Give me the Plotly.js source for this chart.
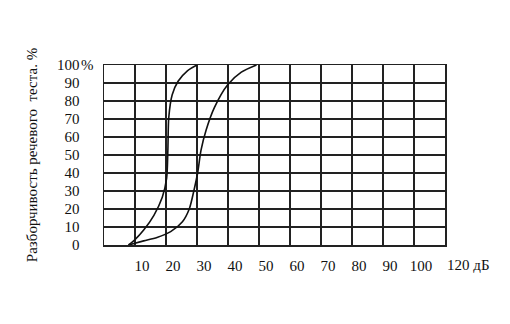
<!DOCTYPE html>
<html><head><meta charset="utf-8">
<script src="https://cdn.plot.ly/plotly-3.0.1.min.js"></script>
<style>body{margin:0;background:#fff}#c{width:510px;height:324px}</style>
</head><body><div id="c"></div>
<script>
const curve1X = [7.9, 10, 12.8, 16.1, 18.8, 20.2, 20.6, 20.9, 22, 23.9, 26.9, 30];
const curve1Y = [0, 3, 8.3, 16.5, 26.5, 37, 52.7, 71, 83.5, 91, 96.8, 100];
const curve2X = [7.9, 12.8, 17.1, 21.5, 25.3, 27.5, 29.1, 30.2, 31.3, 32.9, 35.6, 39.9, 44.3, 49.2];
const curve2Y = [0, 2.3, 4.2, 7.4, 12.9, 20, 31, 40, 52.7, 63.6, 76.3, 89, 96, 100];
const xTickVals = [10, 20, 30, 40, 50, 60, 70, 80, 90, 100];
const xTickText = ['10', '20', '30', '40', '50', '60', '70', '80', '90', '100'];
const xLastVal = 110;
const xLastText = '120 дБ';
const yTickVals = [0, 10, 20, 30, 40, 50, 60, 70, 80, 90, 100];
const yTickText = ['0', '10', '20', '30', '40', '50', '60', '70', '80', '90', '100'];
const yTitle = 'Разборчивость речевого  теста. %';

const font = {family: 'Liberation Serif, Times New Roman, serif', size: 15, color: '#111'};
const lineStyle = {color: '#111', width: 1.6, shape: 'spline', smoothing: 0.8};

Plotly.newPlot('c', [
  {x: curve1X, y: curve1Y, mode: 'lines', line: lineStyle, hoverinfo: 'skip'},
  {x: curve2X, y: curve2Y, mode: 'lines', line: lineStyle, hoverinfo: 'skip'}
], {
  width: 510, height: 324,
  margin: {l: 104, r: 65, t: 65, b: 79},
  showlegend: false,
  paper_bgcolor: '#fff', plot_bgcolor: '#fff',
  font: font,
  xaxis: {
    range: [0, 110],
    showgrid: true, gridcolor: '#222', gridwidth: 1.5,
    showline: true, linecolor: '#222', linewidth: 1.5, mirror: true,
    zeroline: false,
    tickmode: 'array', tickvals: xTickVals, ticktext: xTickText,
    ticks: '', ticklabelstandoff: 6, ticklabelshift: 7,
    tickfont: font
  },
  yaxis: {
    range: [0, 100],
    showgrid: true, gridcolor: '#222', gridwidth: 1.5,
    showline: true, linecolor: '#222', linewidth: 1.5, mirror: true,
    zeroline: false,
    tickmode: 'array', tickvals: yTickVals, ticktext: yTickText,
    ticks: '', ticklabelstandoff: 20,
    tickfont: font,
    title: {text: yTitle, font: font, standoff: 16}
  },
  annotations: [
    {x: xLastVal, y: 0, xref: 'x', yref: 'y', text: xLastText, showarrow: false,
     xanchor: 'left', yanchor: 'top', xshift: 0, yshift: -10, font: font},
    {x: 0, y: 100, xref: 'x', yref: 'y', text: '%', showarrow: false,
     xanchor: 'left', yanchor: 'middle', xshift: -25, font: font}
  ]
}, {staticPlot: true});
</script></body></html>
